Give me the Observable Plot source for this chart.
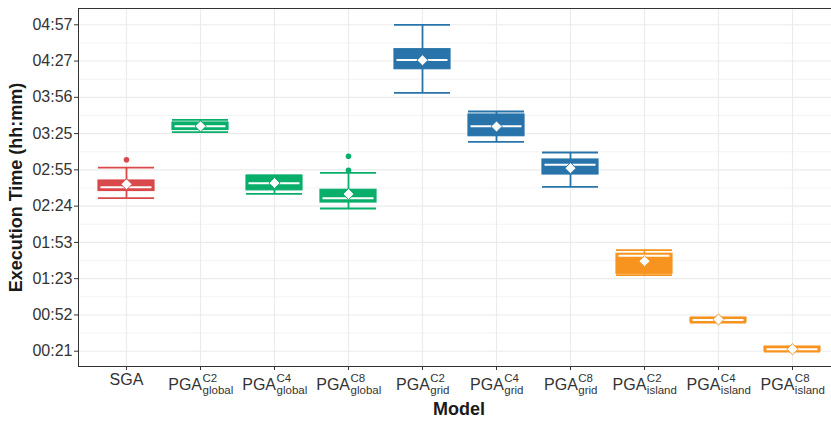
<!DOCTYPE html>
<html>
<head>
<meta charset="utf-8">
<script src="https://cdn.jsdelivr.net/npm/d3@7"></script>
<script src="https://cdn.jsdelivr.net/npm/@observablehq/plot@0.6"></script>
<style>
  html, body { margin: 0; padding: 0; background: #fff; }
</style>
</head>
<body>
<div id="chart"></div>
<script>
// ---- Data (execution time in seconds) ----
const models = ["SGA", "PGA C2 global", "PGA C4 global", "PGA C8 global",
  "PGA C2 grid", "PGA C4 grid", "PGA C8 grid",
  "PGA C2 island", "PGA C4 island", "PGA C8 island"];
const groups = ["SGA", "global", "global", "global", "grid", "grid", "grid", "island", "island", "island"];
const whiskerLow  = [9062, 12411, 9286, 8540, 14410, 11924, 9641, 5156, 2756, 1275];
const q1          = [9428, 12523, 9463, 8844, 15607, 12208, 10265, 5227, 2781, 1295];
const median      = [9621, 12715, 9818, 9062, 16074, 12715, 10757, 6140, 2883, 1401];
const q3          = [9960, 12903, 10200, 9489, 16622, 13309, 11026, 6242, 2984, 1513];
const whiskerHigh = [10610, 13040, 10214, 10351, 17860, 13461, 11381, 6424, 3020, 1538];
const mean        = [9768, 12710, 9830, 9270, 16060, 12700, 10585, 5866, 2908, 1400];
const outlierModels = ["SGA", "PGA C8 global", "PGA C8 global"];
const outlierValues = [11016, 11188, 10483];

// tick labels
const xLabelMain = ["SGA", "PGA", "PGA", "PGA", "PGA", "PGA", "PGA", "PGA", "PGA", "PGA"];
const xLabelSup  = ["", "C2", "C4", "C8", "C2", "C4", "C8", "C2", "C4", "C8"];
const xLabelSub  = ["", "global", "global", "global", "grid", "grid", "grid", "island", "island", "island"];
const yTickValues = [1300, 3140, 4980, 6820, 8660, 10500, 12340, 14180, 16020, 17860];
const yTickLabels = ["00:21", "00:52", "01:23", "01:53", "02:24", "02:55", "03:25", "03:56", "04:27", "04:57"];
const yDomain = [524, 18687];

const groupNames = ["SGA", "global", "grid", "island"];
const groupColors = ["#d9484a", "#09ae6b", "#2874aa", "#f7941f"];

const xTitle = "Model";
const yTitle = "Execution Time (hh:mm)";

// ---- Build tables ----
const rows = models.map((m, i) => ({
  model: m, group: groups[i], lo: whiskerLow[i], q1: q1[i], med: median[i],
  q3: q3[i], hi: whiskerHigh[i], mean: mean[i]
}));
const outliers = outlierModels.map((m, i) => ({
  model: m, group: groups[models.indexOf(m)], value: outlierValues[i]
}));
const minorTicks = d3.pairs(yTickValues).map(([a, b]) => (a + b) / 2);

const chart = Plot.plot({
  width: 831,
  height: 423,
  marginLeft: 78,
  marginRight: -8,
  marginTop: 8,
  marginBottom: 57,
  style: { fontFamily: "'Liberation Sans', Arial, sans-serif", fontSize: "16px", color: "#333", background: "#fff" },
  x: { domain: models, type: "band", paddingInner: 0.25, paddingOuter: 0.224, align: 0.5, axis: null },
  y: { domain: yDomain, axis: null },
  color: { domain: groupNames, range: groupColors },
  marks: [
    Plot.gridY(minorTicks, { stroke: "#ebebeb", strokeOpacity: 1, strokeWidth: 0.6 }),
    Plot.gridY(yTickValues, { stroke: "#ebebeb", strokeOpacity: 1, strokeWidth: 1.1 }),
    Plot.gridX(models, { stroke: "#ebebeb", strokeOpacity: 1, strokeWidth: 1.1 }),
    Plot.frame({ stroke: "#333", strokeWidth: 1 }),
    Plot.axisY(yTickValues, {
      tickSize: 4, tickPadding: 2, stroke: "#333", fill: "#333", fontSize: 16,
      tickFormat: (d) => yTickLabels[yTickValues.indexOf(d)], label: null
    }),
    Plot.axisX(models, {
      tickSize: 4, tickPadding: 3, stroke: "#333", fill: "#333", fontSize: 16,
      tickFormat: (d) => d, label: null
    }),
    // whiskers
    Plot.ruleX(rows, { x: "model", y1: "lo", y2: "hi", stroke: "group", strokeWidth: 1.8 }),
    Plot.tickY(rows, { x: "model", y: "lo", stroke: "group", strokeWidth: 1.8 }),
    Plot.tickY(rows, { x: "model", y: "hi", stroke: "group", strokeWidth: 1.8 }),
    // boxes
    Plot.barY(rows, { x: "model", y1: "q1", y2: "q3", fill: "group", stroke: "group", strokeWidth: 1.2 }),
    // medians
    Plot.tickY(rows, { x: "model", y: "med", stroke: "white", strokeWidth: 2, inset: 2.5 }),
    // outliers
    Plot.dot(outliers, { x: "model", y: "value", fill: "group", r: 2.8, stroke: null }),
    // means
    Plot.dot(rows, { x: "model", y: "mean", symbol: "diamond2", r: 5, fill: "white", stroke: "group", strokeWidth: 1 }),
    // titles
    Plot.text([yTitle], { text: (d) => d, frameAnchor: "left", textAnchor: "middle", lineAnchor: "middle", rotate: -90, dx: -62, fontSize: 18, fontWeight: "bold", fill: "#1a1a1a" }),
    Plot.text([xTitle], { text: (d) => d, frameAnchor: "bottom", textAnchor: "middle", lineAnchor: "middle", dy: 43, fontSize: 18, fontWeight: "bold", fill: "#1a1a1a" })
  ]
});

document.getElementById("chart").append(chart);

// ---- Rich tick labels (superscript + subscript) ----
const NS = "http://www.w3.org/2000/svg";
const xTickTexts = chart.querySelectorAll('g[aria-label="x-axis tick label"] text');
xTickTexts.forEach((t) => {
  const i = models.indexOf(t.textContent);
  if (i < 0 || !xLabelSup[i]) return;
  t.textContent = "";
  t.setAttribute("text-anchor", "start");
  const main = document.createElementNS(NS, "tspan");
  main.textContent = xLabelMain[i];
  const sup = document.createElementNS(NS, "tspan");
  sup.textContent = xLabelSup[i];
  sup.setAttribute("font-size", "11.5");
  const sub = document.createElementNS(NS, "tspan");
  sub.textContent = xLabelSub[i];
  sub.setAttribute("font-size", "11.5");
  t.append(main, sup, sub);
  const wMain = main.getComputedTextLength();
  const wSup = sup.getComputedTextLength();
  const wSub = sub.getComputedTextLength();
  const W = wMain + Math.max(wSup, wSub);
  const x0 = -W / 2;
  main.setAttribute("x", x0);
  main.setAttribute("dy", "5");
  sup.setAttribute("x", x0 + wMain + 0.5);
  sup.setAttribute("dy", "-8");
  sub.setAttribute("x", x0 + wMain + 0.5);
  sub.setAttribute("dy", "12");
});
</script>
</body>
</html>
